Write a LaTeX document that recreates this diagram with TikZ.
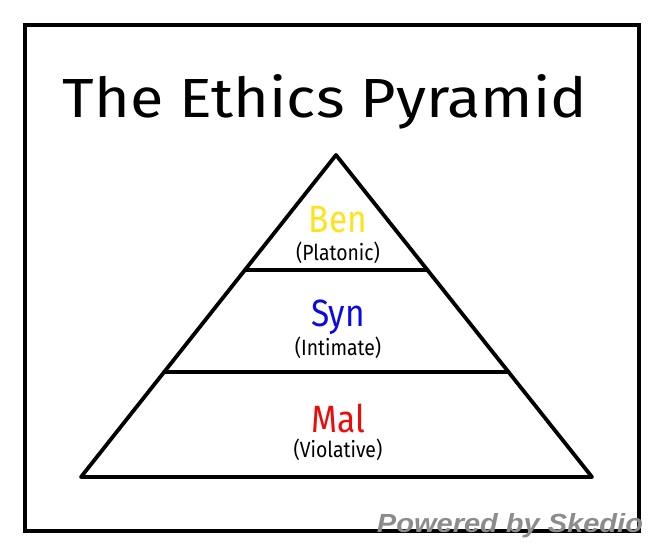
\documentclass[tikz,border=0pt]{standalone}
\usepackage{fontspec}
\setmainfont{Fira Sans}[FakeStretch=0.88]
\newfontfamily\markfont{Liberation Sans}
\usetikzlibrary{calc}
\definecolor{benyellow}{HTML}{FFE31A}
\definecolor{synblue}{HTML}{0A0AE6}
\definecolor{malred}{HTML}{F00A0A}
\definecolor{markgray}{HTML}{8C8C8C}

\begin{document}
\begin{tikzpicture}
[x=1pt,y=-1pt,
 every node/.style={inner sep=0pt,outer sep=0pt,anchor=base},
 frame/.style={draw=black,line width=3.8pt},
 tier/.style={draw=black,line width=3.8pt,line join=round,line cap=round},
 grade/.style={font=\fontsize{38}{38}\selectfont},
 kind/.style={font=\fontsize{22}{22}\selectfont}]
\useasboundingbox (0,0) rectangle (663,555);
\draw[frame] (25,25) rectangle (639,531);
\node (title) at (325,117) {\resizebox{524pt}{43pt}{\fontsize{60}{60}\selectfont The Ethics Pyramid}};
\coordinate (top) at (336,155);
\coordinate (bl)  at (81,477);
\coordinate (br)  at (592,477);
\coordinate (u1)  at ($(top)!0.357!(bl)$);
\coordinate (u2)  at ($(top)!0.357!(br)$);
\coordinate (m1)  at ($(top)!0.674!(bl)$);
\coordinate (m2)  at ($(top)!0.674!(br)$);
\draw[tier] (top) -- (br) -- (bl) -- cycle;
\draw[tier] (u1) -- (u2);
\draw[tier] (m1) -- (m2);
\node[grade,text=benyellow] (ben)       at (338,232) {Ben};
\node[kind]                 (platonic)  at (338,260) {(Platonic)};
\node[grade,text=synblue]   (syn)       at (338,326) {Syn};
\node[kind]                 (intimate)  at (338,355) {(Intimate)};
\node[grade,text=malred]    (mal)       at (338,432) {Mal};
\node[kind]                 (violative) at (338,457) {(Violative)};
\node[text=markgray] (mark) at (510,532) {\resizebox{266pt}{19pt}{\markfont\bfseries\itshape Powered by Skedio}};
\end{tikzpicture}
\end{document}
